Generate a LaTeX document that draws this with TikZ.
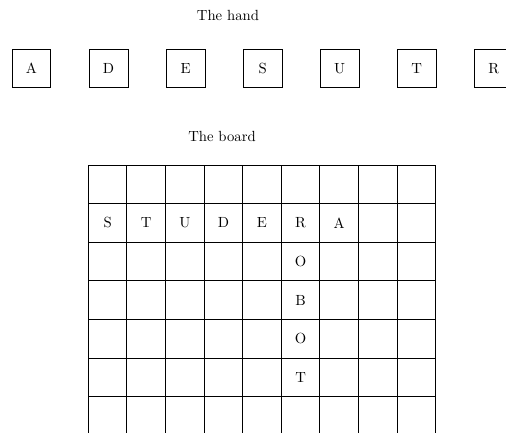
\documentclass[tikz,border=0pt]{standalone}
\usetikzlibrary{positioning}

\begin{document}
\begin{tikzpicture}[x=0.68pt,y=-0.68pt, node distance=25.4pt,
  tile/.style={draw,line width=0.6pt,minimum size=26.4pt,inner sep=0pt},
  cell/.style={inner sep=0pt}]
  \clip (0,0) rectangle (506,432);
  % the hand
  \node (handtitle) at (228,15) {The hand};
  \node[tile] (ha) at (31.5,68.5) {A};
  \node[tile,right=of ha] (hd) {D};
  \node[tile,right=of hd] (he) {E};
  \node[tile,right=of he] (hs) {S};
  \node[tile,right=of hs] (hu) {U};
  \node[tile,right=of hu] (ht) {T};
  \node[tile,right=of ht] (hr) {R};
  % the board
  \node (boardtitle) at (222,136) {The board};
  \foreach \i in {0,...,9}
    \draw[line width=0.6pt] (88.3+38.6*\i,165) -- (88.3+38.6*\i,440);
  \foreach \j in {0,...,6}
    \draw[line width=0.6pt] (88.3,165+38.6*\j) -- (435.7,165+38.6*\j);
  \foreach \l/\c in {S/0,T/1,U/2,D/3,E/4,R/5,A/6}
    \node[cell] (row-\c) at (88.3+38.6*\c+19.3,165+38.6+19.3) {\l};
  \foreach \l/\r in {O/2,B/3,O/4,T/5}
    \node[cell] (col-\r) at (88.3+38.6*5+19.3,165+38.6*\r+19.3) {\l};
\end{tikzpicture}
\end{document}
